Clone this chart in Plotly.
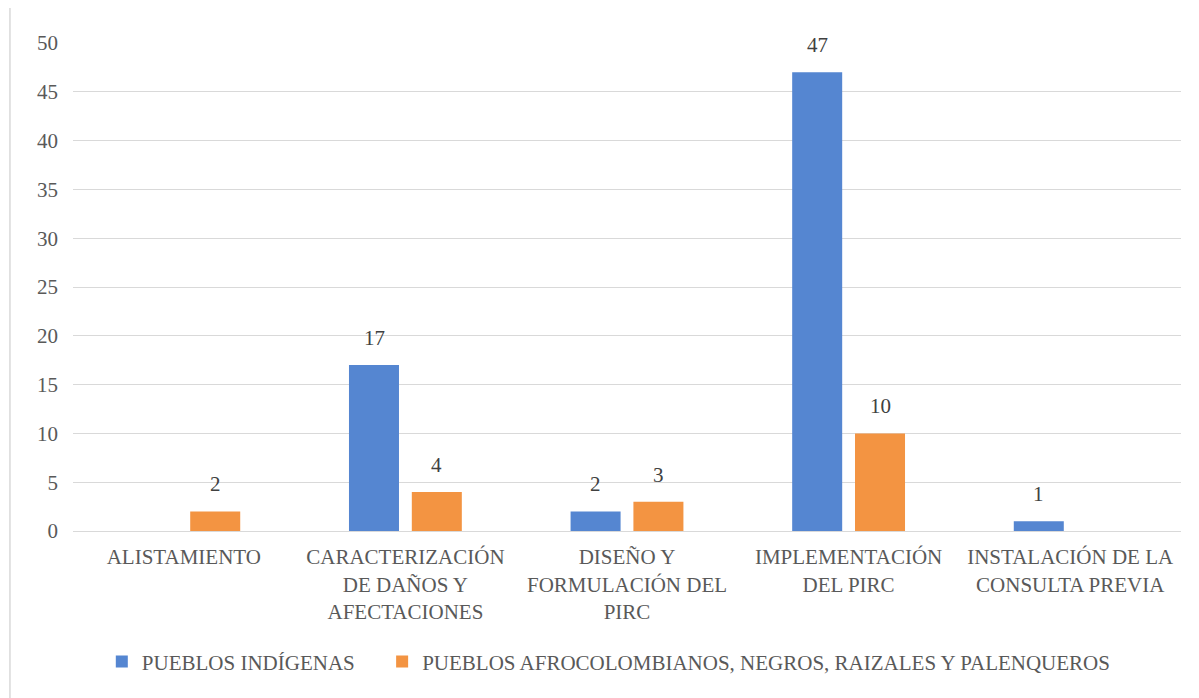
import plotly.graph_objects as go

categories = ["ALISTAMIENTO", "CARACTERIZACIÓN<br>DE DAÑOS Y<br>AFECTACIONES",
              "DISEÑO Y<br>FORMULACIÓN DEL<br>PIRC", "IMPLEMENTACIÓN<br>DEL PIRC",
              "INSTALACIÓN DE LA<br>CONSULTA PREVIA"]
indigenas = [0, 17, 2, 47, 1]
afro = [2, 4, 3, 10, 0]
series_names = ["PUEBLOS INDÍGENAS", "PUEBLOS AFROCOLOMBIANOS, NEGROS, RAIZALES Y PALENQUEROS"]
colors = ["#5586D1", "#F39442"]
y_ticks = [0, 5, 10, 15, 20, 25, 30, 35, 40, 45, 50]

font_fam = "Liberation Serif, Times New Roman, serif"
txt = "#595959"

fig = go.Figure()
for name, vals, col, lg in zip(series_names, [indigenas, afro], colors, ["legend", "legend2"]):
    fig.add_trace(go.Bar(x=categories, y=vals, name=name, marker_color=col,
                         marker_line_width=0, legend=lg, showlegend=True))

ann = []
for vals, sh in [(indigenas, -31.4), (afro, 31.4)]:
    for c, v in zip(categories, vals):
        if v:
            ann.append(dict(x=c, y=v, xref="x", yref="y", text=str(v), showarrow=False,
                            xshift=sh, yshift=27, font=dict(size=21, color="#404040", family=font_fam)))

leg_common = dict(orientation="h", xanchor="left", y=-0.268, yanchor="middle",
                  font=dict(size=21, color=txt, family=font_fam), itemwidth=30,
                  bgcolor="rgba(0,0,0,0)")

fig.update_layout(
    width=1191, height=690,
    margin=dict(l=65, r=18, t=35, b=167),
    paper_bgcolor="white", plot_bgcolor="white",
    showlegend=True,
    barmode="group", bargap=0.433, bargroupgap=0.204,
    font=dict(family=font_fam, size=21, color=txt),
    annotations=ann,
    legend=dict(x=0.026, **leg_common),
    legend2=dict(x=0.279, **leg_common),
    yaxis=dict(range=[0, 50], tickvals=y_ticks, gridcolor="#D9D9D9", gridwidth=1,
               zeroline=False, showline=False, ticks="", ticklabelstandoff=14,
               tickfont=dict(size=21, color=txt, family=font_fam)),
    xaxis=dict(showline=True, linecolor="#D9D9D9", linewidth=1, ticks="",
               ticklabelstandoff=7,
               tickfont=dict(size=21, color=txt, family=font_fam), tickangle=0),
    shapes=[dict(type="rect", xref="paper", yref="paper", x0=-0.0569, x1=1.1,
                 y0=-0.5, y1=1.0738, line=dict(color="#D9D9D9", width=1.5))],
)

fig.write_html("out.html")
